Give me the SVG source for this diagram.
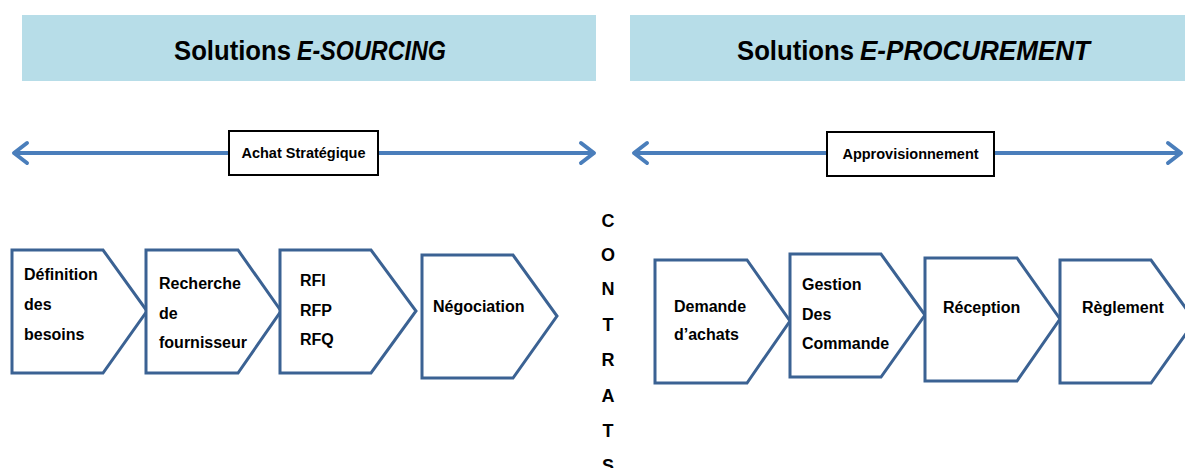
<svg xmlns="http://www.w3.org/2000/svg" width="1185" height="468" viewBox="0 0 1185 468">
<defs>
<style>
.hdr{fill:#b7dde8}
.htxt{font-family:"Liberation Sans",Arial,sans-serif;font-weight:bold;font-size:27px;fill:#000}
.it{font-style:italic}
.step{fill:#fff;stroke:#3b6293;stroke-width:3;stroke-linejoin:miter}
.t{font-family:"Liberation Sans",Arial,sans-serif;font-weight:bold;font-size:16px;fill:#000}
.lbl{fill:#fff;stroke:#000;stroke-width:2}
.lt{font-family:"Liberation Sans",Arial,sans-serif;font-weight:bold;font-size:14.5px;fill:#000;text-anchor:middle}
.arr{stroke:#4a7ebb;stroke-width:4;fill:none}
.ah{stroke:#4a7ebb;stroke-width:4;fill:none;stroke-linecap:round;stroke-linejoin:round}
.c{font-family:"Liberation Sans",Arial,sans-serif;font-weight:bold;font-size:18px;fill:#000;text-anchor:middle}
</style>
</defs>
<rect width="1185" height="468" fill="#fff"/>

<g id="header-esourcing">
<rect class="hdr" x="22" y="15" width="574" height="66"/>
<text class="htxt" x="174" y="60" textLength="117" lengthAdjust="spacingAndGlyphs">Solutions</text>
<text class="htxt it" x="297" y="60" textLength="149" lengthAdjust="spacingAndGlyphs">E-SOURCING</text>
</g>
<g id="header-eprocurement">
<rect class="hdr" x="630" y="15" width="555" height="66"/>
<text class="htxt" x="737" y="60" textLength="117" lengthAdjust="spacingAndGlyphs">Solutions</text>
<text class="htxt it" x="860" y="60" textLength="230" lengthAdjust="spacingAndGlyphs">E-PROCUREMENT</text>
</g>

<g id="connectors">
<line class="arr" x1="14" y1="153" x2="594" y2="153"/>
<polyline class="ah" points="27,143 14,153 27,163"/>
<polyline class="ah" points="581,143 594,153 581,163"/>
<line class="arr" x1="634" y1="153" x2="1181" y2="153"/>
<polyline class="ah" points="647,143 634,153 647,163"/>
<polyline class="ah" points="1168,143 1181,153 1168,163"/>
</g>

<g id="label-achat">
<rect class="lbl" x="229" y="131" width="149" height="44"/>
<text class="lt" x="303.5" y="158">Achat Stratégique</text>
</g>
<g id="label-appro">
<rect class="lbl" x="827" y="132" width="167" height="44"/>
<text class="lt" x="910.5" y="159">Approvisionnement</text>
</g>

<g id="step-definition">
<polygon class="step" points="12,250 103,250 147,311 103,373 12,373"/>
<text class="t" x="24" y="280">Définition</text>
<text class="t" x="24" y="310">des</text>
<text class="t" x="24" y="340">besoins</text>
</g>
<g id="step-recherche">
<polygon class="step" points="146,250 238,250 281,311 238,373 146,373"/>
<text class="t" x="159" y="289">Recherche</text>
<text class="t" x="159" y="319">de</text>
<text class="t" x="159" y="348">fournisseur</text>
</g>
<g id="step-rfx">
<polygon class="step" points="280,250 371,250 416,311 371,373 280,373"/>
<text class="t" x="300" y="286">RFI</text>
<text class="t" x="300" y="316">RFP</text>
<text class="t" x="300" y="345">RFQ</text>
</g>
<g id="step-negociation">
<polygon class="step" points="422,255 513,255 557,316 513,378 422,378"/>
<text class="t" x="433" y="312">Négociation</text>
</g>

<g id="contrats">
<text class="c" x="608" y="227">C</text>
<text class="c" x="608" y="261">O</text>
<text class="c" x="608" y="295">N</text>
<text class="c" x="608" y="331">T</text>
<text class="c" x="608" y="366">R</text>
<text class="c" x="608" y="402">A</text>
<text class="c" x="608" y="437">T</text>
<text class="c" x="608" y="472">S</text>
</g>

<g id="step-demande">
<polygon class="step" points="655,260 747,260 790,321 747,383 655,383"/>
<text class="t" x="674" y="312">Demande</text>
<text class="t" x="674" y="340">d’achats</text>
</g>
<g id="step-gestion">
<polygon class="step" points="790,254 881,254 925,315 881,377 790,377"/>
<text class="t" x="802" y="290">Gestion</text>
<text class="t" x="802" y="320">Des</text>
<text class="t" x="802" y="349">Commande</text>
</g>
<g id="step-reception">
<polygon class="step" points="925,258 1017,258 1060,319 1017,381 925,381"/>
<text class="t" x="943" y="313">Réception</text>
</g>
<g id="step-reglement">
<polygon class="step" points="1060,260 1151,260 1195,321 1151,383 1060,383"/>
<text class="t" x="1082" y="313">Règlement</text>
</g>
</svg>
